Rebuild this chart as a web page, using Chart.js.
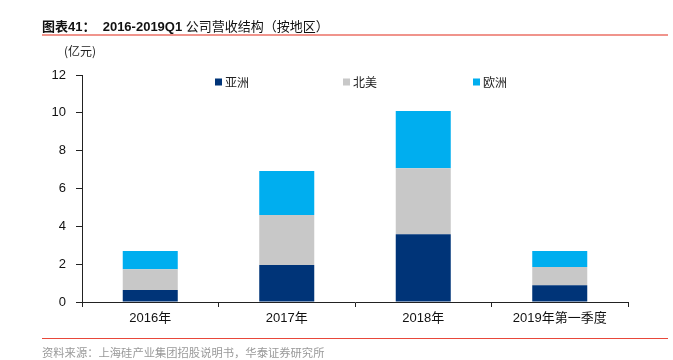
<!DOCTYPE html>
<html>
<head>
<meta charset="utf-8">
<script src="https://cdn.jsdelivr.net/npm/chart.js@4.4.0/dist/chart.umd.min.js"></script>
<style>
  body { margin: 0; width: 673px; height: 360px; background: #fff; position: relative; overflow: hidden;
         font-family: "Liberation Sans", "Noto Sans CJK SC", sans-serif; }
  #title { position: absolute; left: 42px; top: 16px; font-size: 13px; color: #111; white-space: nowrap; }
  #title b { font-weight: bold; }
  #topLine { position: absolute; left: 42px; top: 34px; width: 626px; height: 2px; background: #f0948c; }
  #unit { position: absolute; left: 64px; top: 42px; font-size: 12px; color: #222; font-family: "Noto Sans CJK SC", sans-serif; }
  #bottomLine { position: absolute; left: 42px; top: 338px; width: 626px; height: 1px; background: #e8483a; }
  #source { position: absolute; left: 42px; top: 344px; font-size: 11.3px; color: #999; font-family: "Noto Sans CJK SC", sans-serif; white-space: nowrap; }
  #chart { position: absolute; left: 0; top: 0; }
</style>
</head>
<body>
<canvas id="chart" width="673" height="360"></canvas>
<div id="title"><b>图表41：&nbsp;&nbsp;2016-2019Q1</b> 公司营收结构（按地区）</div>
<div id="topLine"></div>
<div id="unit">(亿元)</div>
<div id="bottomLine"></div>
<div id="source">资料来源：上海硅产业集团招股说明书，华泰证券研究所</div>
<script>
// categories and values (亿元)
const categories = ["2016年", "2017年", "2018年", "2019年第一季度"];
const asia = [0.63, 1.96, 3.58, 0.88];
const northAmerica = [1.10, 2.64, 3.49, 0.97];
const europe = [0.97, 2.32, 3.03, 0.85];
const seriesNames = ["亚洲", "北美", "欧洲"];
const seriesColors = ["#003478", "#c8c8c8", "#00aeef"];
const yTicks = [0, 2, 4, 6, 8, 10, 12];

// legend drawn inside the plot area, like the original
const innerLegend = {
  id: "innerLegend",
  afterDatasetsDraw(chart) {
    const ctx = chart.ctx;
    const xs = [215, 343, 473];
    const y = 82;
    ctx.save();
    ctx.font = '12px "Noto Sans CJK SC", sans-serif';
    ctx.textBaseline = "middle";
    chart.data.datasets.forEach((ds, i) => {
      ctx.fillStyle = ds.backgroundColor;
      ctx.fillRect(xs[i], y - 3.5, 7, 7);
      ctx.fillStyle = "#222";
      ctx.fillText(ds.label, xs[i] + 10, y);
    });
    ctx.restore();
  }
};

const data = [asia, northAmerica, europe];

new Chart(document.getElementById("chart"), {
  type: "bar",
  data: {
    labels: categories,
    datasets: data.map((vals, i) => ({
      label: seriesNames[i],
      data: vals,
      backgroundColor: seriesColors[i],
      borderWidth: 0,
      categoryPercentage: 0.403,
      barPercentage: 1
    }))
  },
  options: {
    responsive: false,
    animation: false,
    layout: { padding: { left: 0, right: 45, top: 75, bottom: 0 } },
    plugins: { legend: { display: false }, tooltip: { enabled: false } },
    scales: {
      x: {
        stacked: true,
        afterFit(scale) { scale.height = 58; },
        grid: { drawOnChartArea: false, drawTicks: true, tickLength: 5, color: "#222" },
        border: { color: "#222", width: 1 },
        ticks: { color: "#111", padding: 4, maxRotation: 0, font: { size: 13, family: '"Liberation Sans", "Noto Sans CJK SC", sans-serif' } }
      },
      y: {
        stacked: true,
        min: 0,
        max: 12,
        afterFit(scale) { scale.width = 82; },
        afterBuildTicks(scale) { scale.ticks = yTicks.map(v => ({ value: v })); },
        grid: { drawOnChartArea: false, drawTicks: true, tickLength: 6, color: "#222" },
        border: { color: "#222", width: 1 },
        ticks: { color: "#111", padding: 10, font: { size: 13, family: '"Liberation Sans", sans-serif' } }
      }
    }
  },
  plugins: [innerLegend]
});
</script>
</body>
</html>
